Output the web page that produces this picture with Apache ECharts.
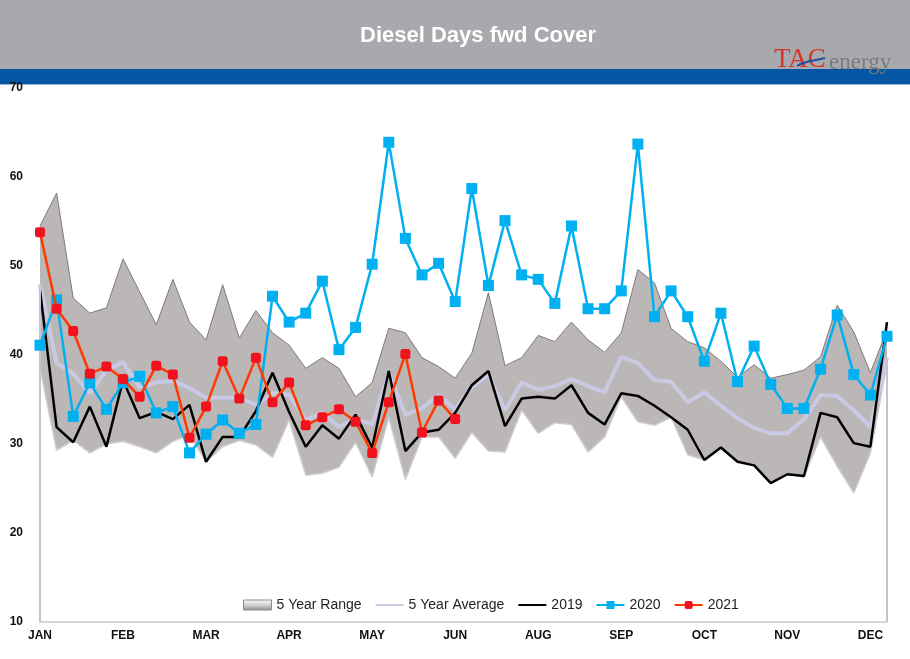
<!DOCTYPE html>
<html><head><meta charset="utf-8">
<script src="https://cdn.jsdelivr.net/npm/echarts@6/dist/echarts.min.js"></script>
<style>html,body{margin:0;padding:0;background:#fff}#c{width:910px;height:659px}</style>
</head><body><div id="c"></div>
<script>
// ---- data ----
const weeks = ['1','2','3','4','5','6','7','8','9','10','11','12','13','14','15','16','17','18','19','20','21','22','23','24','25','26',
  '27','28','29','30','31','32','33','34','35','36','37','38','39','40','41','42','43','44','45','46','47','48','49','50','51','52'];
const monthLabels = ['JAN','FEB','MAR','APR','MAY','JUN','AUG','SEP','OCT','NOV','DEC'];
const yTicks = [10,20,30,40,50,60,70];

const rangeHigh = [54.5,58.2,46.4,44.7,45.3,50.8,47.1,43.4,48.5,43.7,41.7,47.9,41.9,45.0,42.5,41.1,38.5,39.7,38.5,35.3,36.9,43.0,42.5,39.7,38.7,37.4,
  40.2,47.0,38.8,39.7,42.2,41.5,43.7,41.7,40.3,42.5,49.6,48.1,43.0,41.5,40.8,39.3,37.5,38.9,37.4,37.8,38.3,39.8,45.6,42.6,38.0,42.8];
const rangeLow = [38.5,29.3,30.4,29.0,30.0,30.3,29.7,29.0,30.3,31.0,28.0,29.7,30.4,29.9,28.5,32.7,26.5,26.7,27.4,30.2,26.3,33.0,26.0,30.8,30.8,28.4,
  31.3,29.2,29.1,33.8,31.2,32.4,32.2,29.1,30.8,35.3,32.5,32.1,33.0,28.8,28.2,29.6,28.0,27.6,25.6,26.6,26.3,30.8,27.5,24.5,29.0,39.0];
const avg5 = [47.9,39.1,37.9,35.7,38.3,39.2,36.4,36.9,37.1,36.3,35.2,35.2,35.2,34.4,35.7,35.5,32.7,33.5,31.9,32.8,32.2,38.0,33.3,34.0,35.5,33.9,
  36.4,37.8,33.8,36.9,36.1,36.5,37.3,36.5,35.8,39.8,39.1,37.2,37.0,34.7,35.8,34.3,32.9,31.8,31.2,31.2,32.8,35.5,35.4,33.8,31.9,39.7];
const y2019 = [47.3,31.9,30.2,34.2,29.7,37.2,32.9,33.6,32.8,34.4,28.0,30.8,30.8,33.7,38.0,33.6,29.7,32.1,30.6,33.3,29.6,38.2,29.2,31.3,31.6,33.5,
  36.6,38.2,32.0,35.1,35.3,35.1,36.6,33.5,32.2,35.7,35.4,34.3,33.0,31.6,28.2,29.6,28.0,27.6,25.6,26.6,26.4,33.5,33.0,30.1,29.7,43.7];
const y2020 = [41.1,46.2,33.1,36.9,33.9,36.9,37.6,33.5,34.2,29.0,31.1,32.7,31.2,32.2,46.6,43.7,44.7,48.3,40.6,43.1,50.2,63.9,53.1,49.0,50.3,46.0,
  58.7,47.8,55.1,49.0,48.5,45.8,54.5,45.2,45.2,47.2,63.7,44.3,47.2,44.3,39.3,44.7,37.0,41.0,36.7,34.0,34.0,38.4,44.5,37.8,35.5,42.1];
const y2021 = [53.8,45.2,42.7,37.9,38.7,37.3,35.3,38.8,37.8,30.7,34.2,39.3,35.1,39.7,34.7,36.9,32.1,33.0,33.9,32.5,29.0,34.7,40.1,31.3,34.9,32.8];

// ---- chart ----
const chart = echarts.init(document.getElementById('c'), null, {renderer:'canvas'});
const last = weeks.length - 1;
const noMarker = {color:'rgba(0,0,0,0)', borderWidth:0, borderColor:'rgba(0,0,0,0)'};
const option = {
  animation: false,
  backgroundColor: '#ffffff',
  textStyle: {fontFamily: 'Liberation Sans, Arial, sans-serif'},
  grid: {left: 40, right: 23, top: 88, bottom: 37, containLabel: false},
  graphic: [
    {type:'rect', left:0, top:0, shape:{width:910, height:69}, style:{fill:'#a7a9ac'}, z:-1},
    {type:'rect', left:0, top:69, shape:{width:910, height:15}, style:{fill:'#0256a3'}, z:-1},
    {type:'rect', left:0, top:84, shape:{width:910, height:1}, style:{fill:'#9db3cf'}, z:-1},
    {type:'text', x:478, y:36, style:{text:'Diesel Days fwd Cover', fill:'#ffffff',
      font:'bold 22px "Liberation Sans", Arial, sans-serif', textAlign:'center', textVerticalAlign:'middle',
      shadowColor:'rgba(0,0,0,0.55)', shadowOffsetX:1, shadowOffsetY:1, shadowBlur:2}},
    {type:'text', x:774, y:73, style:{text:'TAC', fill:'#d9342b',
      font:'27px "Liberation Serif", "Times New Roman", serif', textVerticalAlign:'bottom'}},
    {type:'text', x:829, y:74, style:{text:'energy', fill:'#7c7c7c',
      font:'23px "Liberation Serif", "Times New Roman", serif', textVerticalAlign:'bottom'}},
    {type:'bezierCurve', shape:{x1:797, y1:66, x2:825, y2:58, cpx1:806, cpy1:60, cpx2:815, cpy2:61},
      style:{stroke:'#1e4fa0', lineWidth:2, fill:null}}
  ],
  legend: {
    left: 238, top: 593,
    itemWidth: 28, itemHeight: 10, itemGap: 13,
    textStyle: {fontSize: 14, color: '#222', fontFamily: 'Liberation Sans, Arial, sans-serif'},
    data: [
      {name:'5 Year Range', icon:'rect', itemStyle:{
        color:new echarts.graphic.LinearGradient(0,0,0,1,[{offset:0,color:'#ffffff'},{offset:0.5,color:'#d2d2d2'},{offset:1,color:'#8e8e8e'}]),
        borderColor:'#8a8a8a', borderWidth:1}},
      {name:'5 Year Average', itemStyle: noMarker},
      {name:'2019', itemStyle: noMarker},
      {name:'2020'},
      {name:'2021'}
    ]
  },
  xAxis: {
    type: 'category', data: weeks, boundaryGap: false, z: 5,
    axisLine: {show: true, lineStyle: {color: '#d6d6d6', width: 2}},
    axisTick: {show: false},
    axisLabel: {
      interval: 4, margin: 8, color: '#111', fontWeight: 'bold', fontSize: 12,
      formatter: (v, i) => monthLabels[i / 5] || ''
    },
    splitLine: {show: false}
  },
  yAxis: {
    type: 'value', min: yTicks[0], max: yTicks[yTicks.length-1], interval: 10,
    axisLine: {show: false}, axisTick: {show: false}, splitLine: {show: false},
    axisLabel: {color: '#111', fontWeight: 'bold', fontSize: 12, margin: 17,
      formatter: v => yTicks.includes(v) ? String(v) : ''}
  },
  series: [
    {name:'5 Year Range', type:'line', data: rangeHigh, symbol:'none', z:1,
      lineStyle:{color:'#7f7a79', width:1},
      areaStyle:{color:'#bbb7b6', opacity:1, origin:'start'}},
    {name:'rangeLow', type:'line', data: rangeLow, symbol:'none', z:1,
      lineStyle:{color:'#cfcccc', width:1.5},
      areaStyle:{color:'#ffffff', opacity:1, origin:'start'}},
    {name:'5 Year Average', type:'line', data: avg5, symbol:'none', z:3,
      lineStyle:{color:'#c9c9e4', width:4},
      itemStyle:{color:'#c9c9e4'},
      markLine:{silent:true, symbol:'none', label:{show:false},
        lineStyle:{color:'#c3c3d6', width:2, type:'solid'},
        data:[
          [{coord:[weeks[0], yTicks[0]]}, {coord:[weeks[0], avg5[0]]}],
          [{coord:[weeks[last], yTicks[0]]}, {coord:[weeks[last], avg5[last]]}]
        ]}},
    {name:'2019', type:'line', data: y2019, symbol:'none', z:4,
      lineStyle:{color:'#000000', width:2.5}, itemStyle:{color:'#000000'}},
    {name:'2020', type:'line', data: y2020, symbol:'rect', symbolSize:11, showAllSymbol:true, z:5,
      lineStyle:{color:'#00b0f0', width:2.5}, itemStyle:{color:'#00b0f0'}},
    {name:'2021', type:'line', data: y2021, symbol:'roundRect', symbolSize:10, showAllSymbol:true, z:6,
      lineStyle:{color:'#ff3a00', width:2.5}, itemStyle:{color:'#f2121e'}}
  ]
};
chart.setOption(option);
</script>
</body></html>
